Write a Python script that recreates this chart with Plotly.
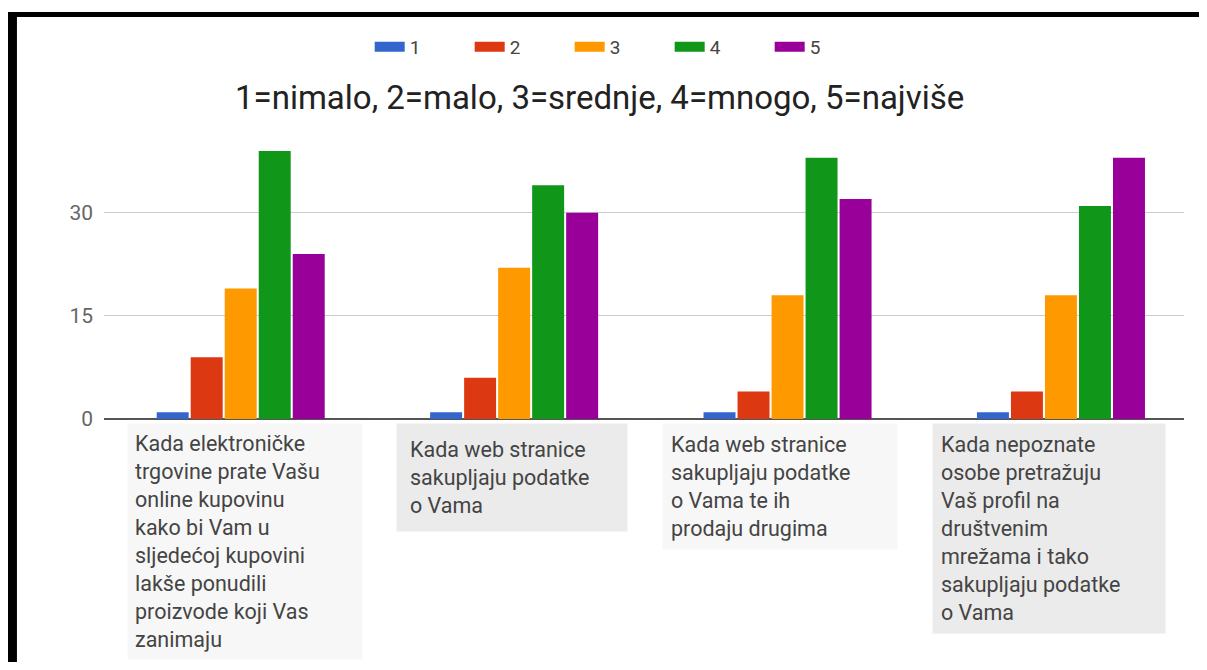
import plotly.graph_objects as go

# answers grouped by statement, one list per rating (1..5)
categories = [
    "Kada elektroničke trgovine prate Vašu online kupovinu kako bi Vam u sljedećoj kupovini lakše ponudili proizvode koji Vas zanimaju",
    "Kada web stranice sakupljaju podatke o Vama",
    "Kada web stranice sakupljaju podatke o Vama te ih prodaju drugima",
    "Kada nepoznate osobe pretražuju Vaš profil na društvenim mrežama i tako sakupljaju podatke o Vama",
]
category_labels = [
    "Kada elektroničke<br>trgovine prate Vašu<br>online kupovinu<br>kako bi Vam u<br>sljedećoj kupovini<br>lakše ponudili<br>proizvode koji Vas<br>zanimaju",
    "Kada web stranice<br>sakupljaju podatke<br>o Vama",
    "Kada web stranice<br>sakupljaju podatke<br>o Vama te ih<br>prodaju drugima",
    "Kada nepoznate<br>osobe pretražuju<br>Vaš profil na<br>društvenim<br>mrežama i tako<br>sakupljaju podatke<br>o Vama",
]
series_names = ["1", "2", "3", "4", "5"]
ratings_1 = [1, 1, 1, 1]
ratings_2 = [9, 6, 4, 4]
ratings_3 = [19, 22, 18, 18]
ratings_4 = [39, 34, 38, 31]
ratings_5 = [24, 30, 32, 38]
y_ticks = [0, 15, 30]
title_text = "1=nimalo, 2=malo, 3=srednje, 4=mnogo, 5=najviše"

colors = ["#3366cc", "#dc3912", "#ff9900", "#109618", "#990099"]
label_bg = ["#f7f7f7", "#ebebeb", "#f7f7f7", "#ebebeb"]
label_shift = [4, -2, -8, -12]
label_pad = [7, 13, 8, 8]
label_box_w = [234, 230, 234, 232]

fig = go.Figure()
all_series = [ratings_1, ratings_2, ratings_3, ratings_4, ratings_5]
for name, vals, col in zip(series_names, all_series, colors):
    fig.add_trace(go.Bar(x=categories, y=vals, name=name, marker_color=col,
                         marker_line_width=0, showlegend=False, legendgroup=name))
    # wide swatch for the legend
    fig.add_trace(go.Scatter(x=[None], y=[None], mode="lines", name=name,
                             line=dict(color=col, width=14), legendgroup=name))

annotations = []
for cat, lab, bg, sh, pad, bw in zip(categories, category_labels, label_bg,
                                      label_shift, label_pad, label_box_w):
    annotations.append(dict(x=cat, xref="x", y=-0.015, yref="paper",
                            xanchor="center", yanchor="top", xshift=sh,
                            text=lab, showarrow=False, align="left",
                            width=bw - 2 * pad, borderpad=pad, bgcolor=bg,
                            font=dict(family="Roboto", size=21.5, color="#444444")))
# title (plot area spans 1080 x 275 px, bottom at y=411 of the figure)
annotations.append(dict(x=495 / 1080, xref="paper", y=(411 - 89) / 275, yref="paper",
                        xanchor="center", yanchor="middle", text=title_text,
                        showarrow=False, font=dict(family="Roboto", size=33, color="#222222")))

fig.update_layout(
    width=1191, height=654,
    margin=dict(l=96, r=15, t=136, b=243),
    paper_bgcolor="white", plot_bgcolor="white",
    barmode="group", bargap=0.378, bargroupgap=0.06,
    font=dict(family="Roboto", color="#444444"),
    legend=dict(orientation="h", x=0.246, xanchor="left", y=1.353, yanchor="middle",
                entrywidth=55, entrywidthmode="pixels",
                font=dict(family="Roboto", size=19, color="#444444")),
    annotations=annotations,
    shapes=[
        dict(type="rect", xref="paper", yref="paper", x0=-0.0889, x1=1.03,
             y0=1.462, y1=1.48, fillcolor="black", line_width=0, layer="above"),
        dict(type="rect", xref="paper", yref="paper", x0=-0.0889, x1=-0.0806,
             y0=-0.95, y1=1.48, fillcolor="black", line_width=0, layer="above"),
    ],
)
fig.update_xaxes(range=[-0.5, 3.45], showticklabels=False, showgrid=False,
                 zeroline=False, showline=False)
fig.update_yaxes(range=[0, 40], tickvals=y_ticks, showgrid=True, gridcolor="#cccccc",
                 zeroline=True, zerolinecolor="#555555", zerolinewidth=1.5,
                 ticklabelstandoff=10,
                 tickfont=dict(family="Roboto", size=21, color="#666666"))

fig.write_html("out.html")
